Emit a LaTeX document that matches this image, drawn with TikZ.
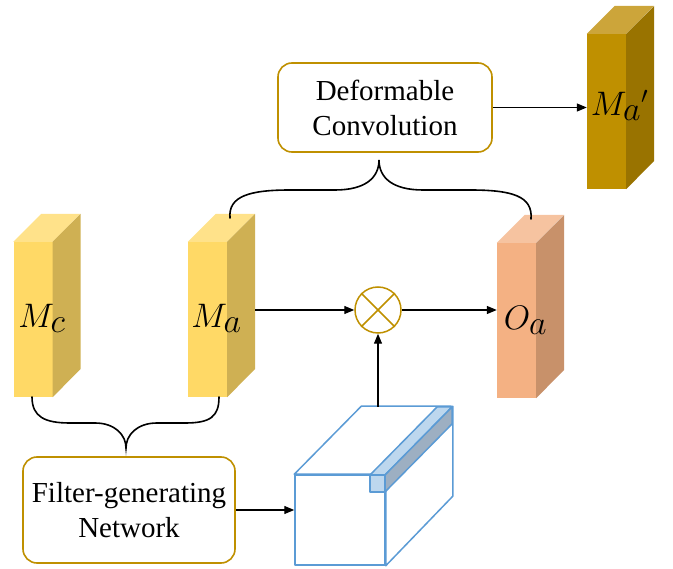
\RequirePackage{fix-cm}
\documentclass[tikz,border=0pt]{standalone}
\usepackage{fontspec}
\setmainfont{Liberation Serif}
\usetikzlibrary{arrows.meta,positioning}
\definecolor{boxgold}{HTML}{BF9000}
\definecolor{ylwfront}{HTML}{FFD966}
\definecolor{ylwtop}{HTML}{FFE28A}
\definecolor{ylwside}{HTML}{CFB053}
\definecolor{orgfront}{HTML}{F4B183}
\definecolor{orgtop}{HTML}{F6C3A0}
\definecolor{orgside}{HTML}{C8916A}
\definecolor{dkfront}{HTML}{BF9000}
\definecolor{dktop}{HTML}{CCA53A}
\definecolor{dkside}{HTML}{997300}
\definecolor{cubeblue}{HTML}{5B9BD5}
\definecolor{slablight}{HTML}{BDD7EE}
\definecolor{slabdark}{HTML}{9DAFC2}

\begin{document}
\begin{tikzpicture}[
    x=1pt,y=-1pt,
    opbox/.style={rectangle,rounded corners=14pt,draw=boxgold,line width=1.6pt,fill=white,
      align=center,inner sep=0pt,font=\fontsize{29}{35}\selectfont},
    featface/.style={rectangle,minimum width=39pt,minimum height=155pt,inner sep=0pt},
    sym/.style={font=\fontsize{34}{40}\selectfont,inner sep=0pt},
    arrow/.style={-{Triangle[length=10pt,width=8pt]},line width=1.3pt},
    brace/.style={line width=1.6pt,line cap=round},
    cubeline/.style={draw=cubeblue,line width=1.5pt,line join=round}
  ]
    \useasboundingbox (0,0) rectangle (673,569);

    % feature blocks
    \node[featface,fill=ylwfront] (mc) at (33,319.5) {};
    \fill[ylwtop] (mc.north west) -- ++(28,-28) -- ++(39,0) -- (mc.north east) -- cycle;
    \fill[ylwside] (mc.north east) -- ++(28,-28) -- ++(0,155) -- (mc.south east) -- cycle;

    \node[featface,fill=ylwfront] (ma) at (207.5,319.5) {};
    \fill[ylwtop] (ma.north west) -- ++(28,-28) -- ++(39,0) -- (ma.north east) -- cycle;
    \fill[ylwside] (ma.north east) -- ++(28,-28) -- ++(0,155) -- (ma.south east) -- cycle;

    \node[featface,fill=orgfront] (oa) at (516.5,320.5) {};
    \fill[orgtop] (oa.north west) -- ++(28,-28) -- ++(39,0) -- (oa.north east) -- cycle;
    \fill[orgside] (oa.north east) -- ++(28,-28) -- ++(0,155) -- (oa.south east) -- cycle;

    \node[featface,fill=dkfront] (mapr) at (606.5,111.5) {};
    \fill[dktop] (mapr.north west) -- ++(28,-28) -- ++(39,0) -- (mapr.north east) -- cycle;
    \fill[dkside] (mapr.north east) -- ++(28,-28) -- ++(0,155) -- (mapr.south east) -- cycle;

    \node[sym] (lmc) at ([xshift=9pt,yshift=1pt]mc.center) {$M_{\textstyle c}$};
    \node[sym] (lma) at ([xshift=9pt,yshift=1pt]ma.center) {$M_{\textstyle a}$};
    \node[sym] (loa) at ([xshift=9pt,yshift=0pt]oa.center) {$O_{\textstyle a}$};
    \node[sym] (lmapr) at ([xshift=13pt,yshift=6pt]mapr.center) {$M_{\textstyle a}{}'$};

    % operators
    \node[opbox,minimum width=214pt,minimum height=89pt] (dconv) at (385,107.5) {Deformable\\Convolution};
    \node[opbox,minimum width=212pt,minimum height=106pt] (filt) at (129,510) {Filter-generating\\Network};
    \node[circle,draw=boxgold,line width=1.5pt,minimum size=46pt,inner sep=0pt] (ot) at (378,310) {};
    \draw[boxgold,line width=1.5pt] (ot.45) -- (ot.225) (ot.135) -- (ot.315);

    % generated filter
    \node[rectangle,cubeline,fill=white,minimum width=90pt,minimum height=90pt,inner sep=0pt] (cubefront) at (340,520) {};
    \draw[cubeline,fill=white] (cubefront.north west) -- ++(67,-68) -- ++(90,0) -- (cubefront.north east) -- cycle;
    \draw[cubeline,fill=white] (cubefront.north east) -- ++(67,-68) -- ++(0,90) -- (cubefront.south east) -- cycle;
    \draw[cubeline,fill=slablight] (370,475) -- (437,407) -- (452,407) -- (385,475) -- cycle;
    \draw[cubeline,fill=slabdark] (385,475) -- (452,407) -- (452,424) -- (385,492) -- cycle;
    \draw[cubeline,fill=slablight] (370,475) rectangle (385,492);

    \coordinate (maout) at (255,310);
    \coordinate (cubetop) at (378,407);
    \coordinate (ubl) at (230,218);
    \coordinate (ubr) at (531,219);
    \coordinate (utip) at (379,160);
    \coordinate (lbl) at (32,397);
    \coordinate (lbr) at (219,397);
    \coordinate (ltip) at (126,448);

    \draw[arrow] (dconv.east) -- (dconv.east -| mapr.west);
    \draw[arrow] (maout) -- (ot.west);
    \draw[arrow] (ot.east) -- (ot.east -| oa.west);
    \draw[arrow] (cubetop) -- (ot.south);
    \draw[arrow] (filt.east) -- (filt.east -| cubefront.west);

    % braces
    \draw[brace] (ubl) .. controls (228,196) and (250,190) .. (290,190) -- (335,190)
      .. controls (365,190) and (379,178) .. (utip)
      .. controls (379,178) and (393,190) .. (423,190) -- (470,190)
      .. controls (512,190) and (533,196) .. (ubr);
    \draw[brace] (lbl) .. controls (32,417) and (45,423) .. (70,423) -- (95,423)
      .. controls (115,423) and (126,435) .. (ltip)
      .. controls (126,435) and (137,423) .. (157,423) -- (185,423)
      .. controls (210,423) and (219,417) .. (lbr);
\end{tikzpicture}
\end{document}
